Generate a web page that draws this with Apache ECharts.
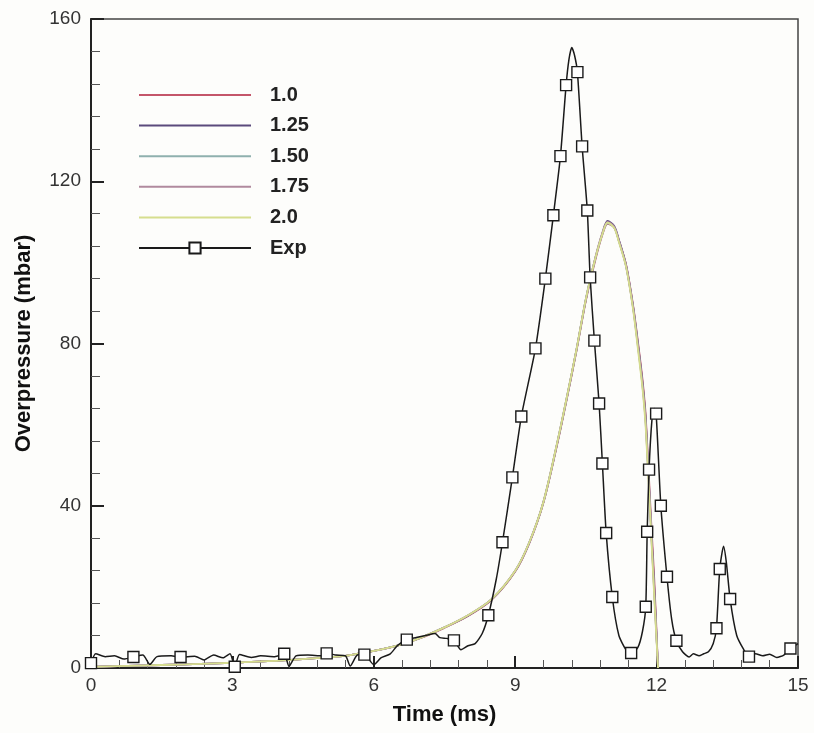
<!DOCTYPE html>
<html>
<head>
<meta charset="utf-8">
<script src="https://cdn.jsdelivr.net/npm/echarts@6/dist/echarts.min.js"></script>
<style>
  html, body { margin: 0; padding: 0; background: #fdfdfb; }
  #chart { width: 814px; height: 733px; }
</style>
</head>
<body>
<div id="chart"></div>
<script>
// x ticks / y ticks
const xTicks = [0, 3, 6, 9, 12, 15]
const yTicks = [0, 40, 80, 120, 160]

// simulation curves (shared time base, ms)
const simT = [0, 1, 2, 3, 4, 5, 5.5, 6, 6.5, 7, 7.5, 8, 8.5, 9, 9.3, 9.6, 9.9, 10.1, 10.3, 10.5, 10.7, 10.85, 10.96, 11.1, 11.2, 11.35, 11.5, 11.6, 11.7, 11.77, 11.88, 11.95, 12.03]
const sim10 = [0.3, 0.6, 0.9, 1.3, 1.8, 2.6, 3.2, 4.2, 5.5, 7.4, 9.9, 12.8, 16.8, 23.8, 30.8, 40.8, 55.6, 66.6, 78.2, 90.6, 100.6, 106.8, 109.5, 108.6, 105.4, 99.6, 89.5, 80.8, 71.2, 62, 37, 22, 0]
const sim125 = [0.3, 0.6, 0.9, 1.3, 1.8, 2.6, 3.2, 4.2, 5.5, 7.5, 10, 12.9, 16.9, 23.9, 30.9, 40.9, 55.8, 66.8, 78.4, 90.9, 101, 107.2, 110.2, 109, 105.6, 99.4, 89.2, 80.2, 70.4, 61, 35.5, 20, 0]
const sim150 = [0.3, 0.6, 0.9, 1.3, 1.8, 2.6, 3.2, 4.2, 5.5, 7.5, 10, 13, 17, 24, 31, 41, 56, 67, 78.5, 91, 101, 107, 109.6, 108.6, 105.2, 99.2, 89, 80, 70, 60.5, 35, 19, 0]
const sim175 = [0.3, 0.6, 0.9, 1.3, 1.8, 2.6, 3.2, 4.2, 5.5, 7.5, 10, 13, 17, 24, 31, 41, 56, 67, 78.5, 91, 101.2, 107.3, 110, 108.8, 105.3, 99.1, 88.8, 79.6, 69.6, 60, 34.5, 18.5, 0]
const sim20 = [0.3, 0.6, 0.9, 1.3, 1.8, 2.6, 3.2, 4.2, 5.5, 7.5, 10, 13, 17, 24, 31, 41, 56, 67, 78.5, 91, 101, 107, 109.8, 108.5, 105, 99, 88.5, 79, 69, 59, 34, 17.5, 0]

// experiment
const expT = [0, 0.1, 0.3, 0.5, 0.7, 0.9, 1.1, 1.25, 1.4, 1.7, 1.9, 2.2, 2.4, 2.6, 2.8, 2.95, 3.05, 3.15, 3.4, 3.6, 3.9, 4.1, 4.2, 4.35, 4.6, 4.9, 5.0, 5.2, 5.4, 5.5, 5.65, 5.8, 6.0, 6.15, 6.35, 6.5, 6.7, 6.9, 7.1, 7.3, 7.4, 7.55, 7.7, 7.85, 8.0, 8.15, 8.3, 8.43, 8.6, 8.73, 8.94, 9.13, 9.43, 9.64, 9.81, 9.96, 10.08, 10.14, 10.2, 10.26, 10.32, 10.42, 10.53, 10.59, 10.68, 10.78, 10.85, 10.93, 11.06, 11.2, 11.35, 11.46, 11.6, 11.7, 11.77, 11.8, 11.84, 11.9, 11.95, 11.99, 12.09, 12.22, 12.32, 12.42, 12.55, 12.69, 12.78, 12.9, 13.0, 13.1, 13.2, 13.27, 13.34, 13.42, 13.48, 13.56, 13.7, 13.85, 13.96, 14.1, 14.25, 14.4, 14.55, 14.7, 14.84, 15.0]
const expP = [1.2, 3.5, 2.8, 3.0, 2.2, 2.7, 3.2, 0.9, 2.8, 3.0, 2.7, 2.9, 2.0, 3.2, 2.5, 3.5, 0.3, 3.3, 2.6, 3.0, 2.8, 3.5, 0.4, 3.0, 3.2, 3.0, 3.6, 3.2, 3.0, 0.5, 3.2, 3.3, 0.8, 2.5, 3.5, 5.5, 7.0, 7.5, 8.0, 8.5, 7.5, 7.3, 6.8, 4.5, 5.5, 6.0, 8.5, 13, 22, 31, 47, 62, 78.8, 96, 111.6, 126.2, 143.7, 150, 153, 151, 146.9, 128.6, 112.8, 96.3, 80.7, 65.2, 50.4, 33.3, 17.5, 8, 4.5, 3.7, 5, 9, 15.1, 33.6, 48.9, 61, 64, 62.7, 40, 22.5, 12, 6.7, 4, 2.7, 3.5, 3.0, 3.5, 4, 6, 9.8, 24.4, 30, 26, 17, 8, 4.5, 2.8, 3.5, 3.0, 3.4, 2.6, 3.2, 4.8, 6]
const expMarked = [0, 5, 10, 16, 21, 26, 31, 36, 42, 47, 49, 50, 51, 52, 53, 54, 55, 56, 60, 61, 62, 63, 64, 65, 66, 67, 68, 71, 74, 75, 76, 79, 80, 81, 83, 91, 92, 95, 98, 104]

const simNames = ['1.0', '1.25', '1.50', '1.75', '2.0']
const simColors = ['#c4566a', '#5b4a7c', '#8fb0ae', '#b08a9e', '#d6de8e']
const simValues = [sim10, sim125, sim150, sim175, sim20]

const font = 'Liberation Sans, Arial, Helvetica, sans-serif'

const simSeries = simNames.map((name, i) => ({
  name: name,
  type: 'line',
  data: simT.map((t, j) => [t, simValues[i][j]]),
  symbol: 'none',
  smooth: 0.3,
  lineStyle: { color: simColors[i], width: 1.8 },
  itemStyle: { color: simColors[i] },
}))

const expData = expT.map((t, j) =>
  expMarked.includes(j)
    ? { value: [t, expP[j]] }
    : { value: [t, expP[j]], symbol: 'none' }
)

const legendData = simNames
  .map(name => ({ name: name, itemStyle: { opacity: 0 } }))
  .concat([{ name: 'Exp' }])

const options = {
  backgroundColor: '#fdfdfb',
  animation: false,
  textStyle: { fontFamily: font },
  grid: {
    left: 91,
    right: 16,
    top: 19,
    bottom: 65,
    show: true,
    borderColor: '#444',
    borderWidth: 1.5,
  },
  legend: {
    orient: 'vertical',
    left: 133,
    top: 80,
    itemWidth: 112,
    itemHeight: 14,
    itemGap: 10.6,
    data: legendData,
    textStyle: {
      fontFamily: font,
      fontSize: 20,
      fontWeight: 'bold',
      color: '#222',
      padding: [0, 0, 0, 14],
    },
  },
  xAxis: {
    type: 'value',
    min: xTicks[0],
    max: xTicks[xTicks.length - 1],
    interval: 3,
    name: 'Time (ms)',
    nameLocation: 'middle',
    nameGap: 36,
    nameTextStyle: { fontFamily: font, fontSize: 22, fontWeight: 'bold', color: '#111' },
    axisLine: { lineStyle: { color: '#222', width: 2 } },
    axisTick: { inside: true, length: 12, lineStyle: { color: '#222', width: 2 } },
    minorTick: { show: true, splitNumber: 5, length: 8, lineStyle: { color: '#555', width: 1 } },
    axisLabel: { fontFamily: font, fontSize: 19, color: '#333', margin: 8 },
    splitLine: { show: false },
  },
  yAxis: {
    type: 'value',
    min: yTicks[0],
    max: yTicks[yTicks.length - 1],
    interval: 40,
    name: 'Overpressure (mbar)',
    nameLocation: 'middle',
    nameGap: 56,
    nameTextStyle: { fontFamily: font, fontSize: 22, fontWeight: 'bold', color: '#111' },
    axisLine: { show: true, lineStyle: { color: '#222', width: 2 } },
    axisTick: { show: true, inside: true, length: 13, lineStyle: { color: '#222', width: 2 } },
    minorTick: { show: true, splitNumber: 5, length: 9, lineStyle: { color: '#555', width: 1 } },
    axisLabel: { fontFamily: font, fontSize: 19, color: '#333', margin: 10 },
    splitLine: { show: false },
  },
  series: simSeries.concat([
    {
      name: 'Exp',
      type: 'line',
      data: expData,
      symbol: 'rect',
      symbolSize: 11,
      smooth: 0.2,
      lineStyle: { color: '#1a1a1a', width: 1.5 },
      itemStyle: { color: '#fff', borderColor: '#1a1a1a', borderWidth: 1.4 },
      z: 5,
    },
  ]),
}

const chart = echarts.init(document.getElementById('chart'))
chart.setOption(options)
window.onresize = function () {
  chart.resize()
}
</script>
</body>
</html>
